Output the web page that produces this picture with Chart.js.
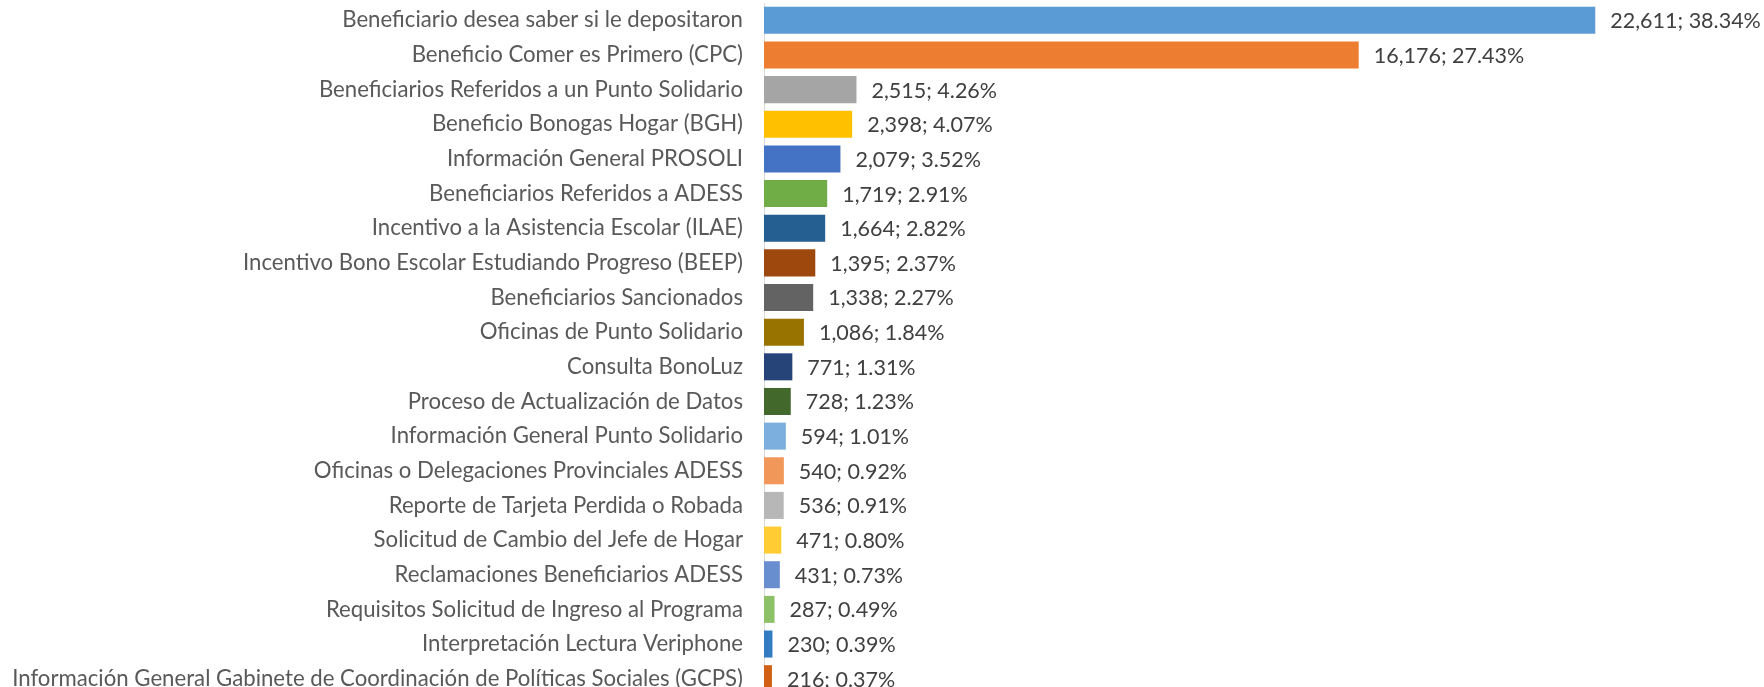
<!DOCTYPE html>
<html>
<head>
<meta charset="utf-8">
<script src="https://cdn.jsdelivr.net/npm/chart.js@4/dist/chart.umd.min.js"></script>
<style>
  html, body { margin: 0; padding: 0; background: #fff; overflow: hidden; }
  #wrap { position: relative; width: 1764px; height: 696px; }
</style>
</head>
<body>
<div id="wrap"><canvas id="chart"></canvas></div>
<script>
// categorias (de arriba hacia abajo)
var categorias = [
  "Beneficiario desea saber si le depositaron",
  "Beneficio Comer es Primero (CPC)",
  "Beneficiarios Referidos a un Punto Solidario",
  "Beneficio Bonogas Hogar (BGH)",
  "Información General PROSOLI",
  "Beneficiarios Referidos a ADESS",
  "Incentivo a la Asistencia Escolar (ILAE)",
  "Incentivo Bono Escolar Estudiando Progreso (BEEP)",
  "Beneficiarios Sancionados",
  "Oficinas de Punto Solidario",
  "Consulta BonoLuz",
  "Proceso de Actualización de Datos",
  "Información General Punto Solidario",
  "Oficinas o Delegaciones Provinciales ADESS",
  "Reporte de Tarjeta Perdida o Robada",
  "Solicitud de Cambio del Jefe de Hogar",
  "Reclamaciones Beneficiarios ADESS",
  "Requisitos Solicitud de Ingreso al Programa",
  "Interpretación Lectura Veriphone",
  "Información General Gabinete de Coordinación de Políticas Sociales (GCPS)"
];
var valores = [22611, 16176, 2515, 2398, 2079, 1719, 1664, 1395, 1338, 1086,
               771, 728, 594, 540, 536, 471, 431, 287, 230, 216];
var porcentajes = ["38.34%", "27.43%", "4.26%", "4.07%", "3.52%", "2.91%", "2.82%", "2.37%", "2.27%", "1.84%",
                   "1.31%", "1.23%", "1.01%", "0.92%", "0.91%", "0.80%", "0.73%", "0.49%", "0.39%", "0.37%"];
var colores = ["#5B9BD5", "#ED7D31", "#A5A5A5", "#FFC000", "#4472C4", "#70AD47", "#255E91", "#9E480E", "#636363", "#997300",
               "#264478", "#43682B", "#7CAFDD", "#F1975A", "#B7B7B7", "#FFCD33", "#698ED0", "#8CC168", "#327DC2", "#D26012"];

var fuente = "Lato, 'Open Sans', sans-serif";

// etiquetas "valor; porcentaje" al final de cada barra
var etiquetas = {
  id: "etiquetas",
  afterDatasetsDraw: function (chart) {
    var ctx = chart.ctx;
    var meta = chart.getDatasetMeta(0);
    ctx.save();
    ctx.font = "21.5px " + fuente;
    ctx.fillStyle = "#404040";
    ctx.textBaseline = "middle";
    ctx.textAlign = "left";
    meta.data.forEach(function (bar, i) {
      var txt = valores[i].toLocaleString("en-US") + "; " + porcentajes[i];
      ctx.fillText(txt, bar.x + 15, bar.y + 1);
    });
    ctx.restore();
  }
};

var ctx = document.getElementById("chart").getContext("2d");
var chart = new Chart(ctx, {
  type: "bar",
  data: {
    labels: categorias,
    datasets: [{
      data: valores,
      backgroundColor: colores,
      borderWidth: 0,
      barPercentage: 1,
      categoryPercentage: 0.78
    }]
  },
  options: {
    indexAxis: "y",
    responsive: true,
    maintainAspectRatio: false,
    animation: false,
    layout: { padding: { top: 3, right: 0, bottom: 0, left: 0 } },
    plugins: {
      legend: { display: false },
      tooltip: { enabled: false }
    },
    scales: {
      x: {
        display: false,
        min: 0,
        max: 27200
      },
      y: {
        grid: { display: false },
        border: { display: true, color: "#D9D9D9", width: 1 },
        ticks: {
          color: "#595959",
          font: { family: fuente, size: 22.2 },
          padding: 13,
          autoSkip: false
        },
        afterFit: function (scale) {
          scale.width = 764;
          // sin margen extra arriba/abajo, las barras llenan todo el alto
          scale.paddingTop = 0;
          scale.paddingBottom = 0;
        }
      }
    }
  },
  plugins: [etiquetas]
});
</script>
</body>
</html>
